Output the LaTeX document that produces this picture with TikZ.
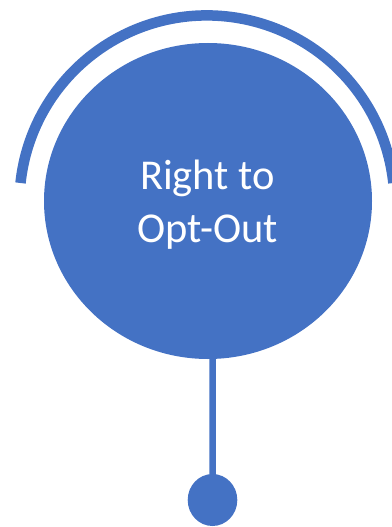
\documentclass[tikz,border=0pt]{standalone}
\usepackage{fontspec}
\setmainfont{Carlito}
\usetikzlibrary{shapes.geometric}
\definecolor{accent}{HTML}{4472C4}
\begin{document}
\begin{tikzpicture}[x=1pt,y=-1pt,
  disc/.style={ellipse, fill=accent, inner sep=0pt},
  ring/.style={draw=accent, line width=10.5pt},
  stem/.style={draw=accent, line width=6.5pt}]
\useasboundingbox (0,0) rectangle (391,527);
\coordinate (arcstart) at (20.5,183);
\draw[ring] (arcstart) arc[start angle=-173.9, end angle=-6.1, radius=187.5];
\node[disc, minimum width=24.8*2, minimum height=26*2] (dot) at (212.5,500) {};
\coordinate (stemtop) at (212.7,300);
\draw[stem] (dot.center) -- (stemtop);
\node[disc, minimum width=328, minimum height=316] (big) at (208,201) {};
\node[text=white, align=center, inner sep=0pt,
  font=\fontsize{42.5}{53}\selectfont] (label) at ([shift={(-0.5,4)}]big.center) {Right to\\Opt-Out};
\end{tikzpicture}
\end{document}
